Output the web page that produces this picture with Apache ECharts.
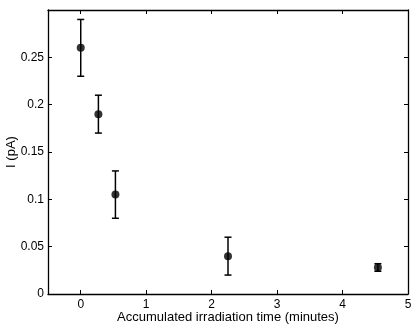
<!DOCTYPE html>
<html><head><meta charset="utf-8">
<script src="https://cdn.jsdelivr.net/npm/echarts@6/dist/echarts.min.js"></script>
<style>html,body{margin:0;padding:0;background:#fff}#c{width:415px;height:327px}</style>
</head><body><div id="c"></div>
<script>
var xValues = [0, 0.27, 0.53, 2.25, 4.54];
var yValues = [0.26, 0.19, 0.105, 0.04, 0.028];
var yLow = [0.23, 0.17, 0.08, 0.02, 0.024];
var yHigh = [0.29, 0.21, 0.13, 0.06, 0.032];
var xTicks = [0, 1, 2, 3, 4, 5];
var yTicks = [0, 0.05, 0.1, 0.15, 0.2, 0.25];

var pts = xValues.map(function(x, i){ return [x, yValues[i]]; });
var errs = xValues.map(function(x, i){ return [x, yLow[i], yHigh[i]]; });
var font = 'Liberation Sans, Arial, Helvetica, sans-serif';
var chart = echarts.init(document.getElementById('c'));
var axisLine = {show: true, onZero: false, lineStyle: {color: '#000', width: 1.3}};
var tick = {show: true, inside: true, length: 4, lineStyle: {color: '#000', width: 1}};
var xTick = {show: true, inside: true, length: 4, lineStyle: {color: '#000', width: 1}, customValues: xTicks};
chart.setOption({
  animation: false,
  grid: {left: 48, right: 7, top: 10, bottom: 33, containLabel: false, outerBoundsMode: 'none'},
  xAxis: [{
    type: 'value', min: -0.5, max: 5, interval: 0.5,
    axisLine: axisLine,
    axisTick: xTick,
    axisLabel: {color: '#000', fontFamily: font, fontSize: 12, margin: 5, customValues: xTicks},
    splitLine: {show: false},
    name: 'Accumulated irradiation time (minutes)', nameLocation: 'middle', nameGap: 17, nameMoveOverlap: false,
    nameTextStyle: {color: '#000', fontFamily: font, fontSize: 13}
  }, {
    type: 'value', min: -0.5, max: 5, interval: 0.5, position: 'top',
    axisLine: axisLine,
    axisTick: xTick,
    axisLabel: {show: false}, splitLine: {show: false}
  }],
  yAxis: [{
    type: 'value', min: 0, max: 0.3, interval: 0.05,
    axisLine: axisLine,
    axisTick: tick,
    axisLabel: {color: '#000', fontFamily: font, fontSize: 12, margin: 4,
      formatter: function(v){ return yTicks.some(function(t){return Math.abs(t - v) < 1e-9;}) ? String(+v.toFixed(2)) : ''; }},
    splitLine: {show: false},
    name: 'I (pA)', nameLocation: 'middle', nameGap: 30, nameRotate: 90, nameMoveOverlap: false,
    nameTextStyle: {color: '#000', fontFamily: font, fontSize: 13}
  }, {
    type: 'value', min: 0, max: 0.3, interval: 0.05, position: 'right',
    axisLine: axisLine, axisTick: tick,
    axisLabel: {show: false}, splitLine: {show: false}
  }],
  series: [{
    type: 'custom',
    xAxisIndex: 0, yAxisIndex: 0,
    data: errs,
    renderItem: function(params, api){
      var lo = api.coord([api.value(0), api.value(1)]);
      var hi = api.coord([api.value(0), api.value(2)]);
      var w = 3.5;
      var st = {stroke: '#000', lineWidth: 1.5};
      return {type: 'group', children: [
        {type: 'line', shape: {x1: lo[0], y1: lo[1], x2: hi[0], y2: hi[1]}, style: st},
        {type: 'line', shape: {x1: lo[0]-w, y1: lo[1], x2: lo[0]+w, y2: lo[1]}, style: st},
        {type: 'line', shape: {x1: hi[0]-w, y1: hi[1], x2: hi[0]+w, y2: hi[1]}, style: st}
      ]};
    },
    z: 2
  }, {
    type: 'scatter', xAxisIndex: 0, yAxisIndex: 0,
    data: pts, symbol: 'circle', symbolSize: 8,
    itemStyle: {color: '#000'}, z: 3
  }]
});
</script></body></html>
